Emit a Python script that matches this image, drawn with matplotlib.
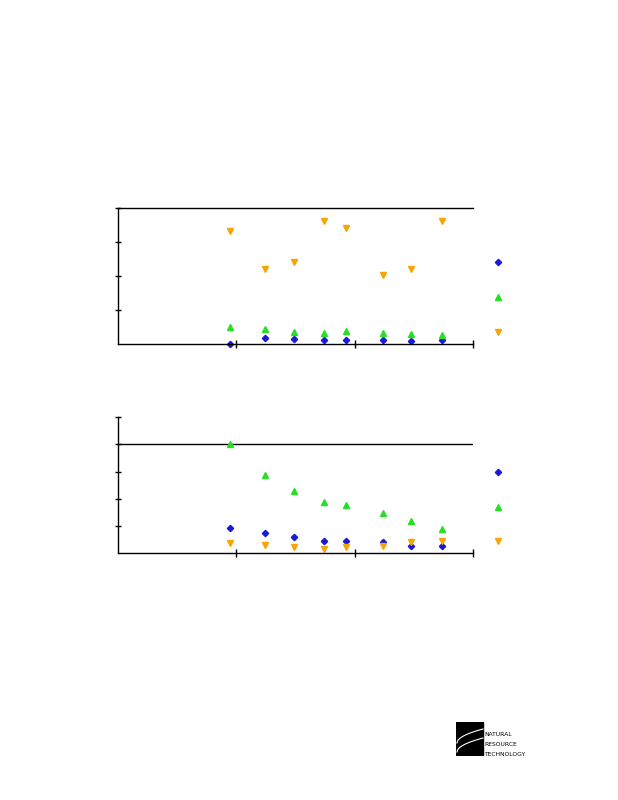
import matplotlib
matplotlib.use("Agg")
import matplotlib.pyplot as plt
from matplotlib.patches import Rectangle
import numpy as np

# ---- data ----
sample_x = [0.95, 1.24, 1.49, 1.74, 1.93, 2.24, 2.48, 2.74]

top_blue = [0.00, 0.17, 0.15, 0.13, 0.11, 0.11, 0.10, 0.13]
top_green = [0.49, 0.44, 0.35, 0.32, 0.38, 0.32, 0.29, 0.27]
top_orange = [3.33, 2.21, 2.42, 3.63, 3.42, 2.03, 2.21, 3.63]

bot_blue = [0.92, 0.74, 0.59, 0.44, 0.44, 0.42, 0.26, 0.26]
bot_green = [4.00, 2.88, 2.28, 1.88, 1.78, 1.47, 1.18, 0.88]
bot_orange = [0.39, 0.31, 0.23, 0.16, 0.23, 0.27, 0.43, 0.45]

x_ticks = [1, 2, 3]
top_yticks = [1, 2, 3, 4]
bot_yticks = [1, 2, 3, 4, 5]
top_ylim = (0, 4)
bot_ylim = (0, 5)
bot_ref_line = 4.0

BLUE = "#1a1ad6"
GREEN = "#26e026"
ORANGE = "#f7a505"

fig = plt.figure(figsize=(6.18, 8.0), dpi=100)

def style_axes(ax, yticks, ylim, top_spine):
    ax.set_xlim(0, 3)
    ax.set_ylim(*ylim)
    ax.set_xticks(x_ticks)
    ax.set_yticks(yticks)
    ax.set_xticklabels([])
    ax.set_yticklabels([])
    ax.spines["right"].set_visible(False)
    ax.spines["top"].set_visible(top_spine)
    for s in ax.spines.values():
        s.set_linewidth(1.0)
    ax.tick_params(axis="y", direction="inout", length=4.5, width=1.0)
    ax.tick_params(axis="x", direction="inout", length=6, width=1.0)

def draw_series(ax, b, g, o):
    ms = 4.0
    hb, = ax.plot(sample_x, b, linestyle="none", marker="D", color=BLUE, markersize=3.2, clip_on=False)
    hg, = ax.plot(sample_x, g, linestyle="none", marker="^", color=GREEN, markersize=ms, clip_on=False)
    ho, = ax.plot(sample_x, o, linestyle="none", marker="v", color=ORANGE, markersize=ms, clip_on=False)
    return [hb, hg, ho]

ax1 = fig.add_axes([0.1909, 0.57, 0.5744, 0.17])
style_axes(ax1, top_yticks, top_ylim, True)
h1 = draw_series(ax1, top_blue, top_green, top_orange)
fig.legend(handles=h1, labels=[" ", " ", " "], loc="center", bbox_to_anchor=(0.809, 0.6275),
           frameon=False, handlelength=0.6, labelspacing=1.5, handletextpad=0.0, borderpad=0, fontsize=10)

ax2 = fig.add_axes([0.1909, 0.3084, 0.5744, 0.17])
style_axes(ax2, bot_yticks, bot_ylim, False)
ax2.axhline(bot_ref_line, color="black", linewidth=1.0)
h2 = draw_series(ax2, bot_blue, bot_green, bot_orange)
fig.legend(handles=h2, labels=[" ", " ", " "], loc="center", bbox_to_anchor=(0.809, 0.3656),
           frameon=False, handlelength=0.6, labelspacing=1.5, handletextpad=0.0, borderpad=0, fontsize=10)

# ---- logo ----
lax = fig.add_axes([456 / 618, 1 - 756 / 800, 80 / 618, 34 / 800])
lax.set_xlim(0, 80)
lax.set_ylim(0, 34)
lax.axis("off")
lax.add_patch(Rectangle((0, 0), 27, 34, color="black"))
t = np.linspace(0, 1, 50)
for off in [0, 9]:
    xs = 1 + 26 * t
    ys = 4 + off + 14 * np.sqrt(t)
    lax.plot(xs, ys, color="white", linewidth=0.8)
for i, word in enumerate(["NATURAL", "RESOURCE", "TECHNOLOGY"]):
    lax.text(28, 21 - i * 9.5, word, fontsize=4.3, family="DejaVu Sans", va="center", ha="left")

fig.savefig("out.png", dpi=100)
